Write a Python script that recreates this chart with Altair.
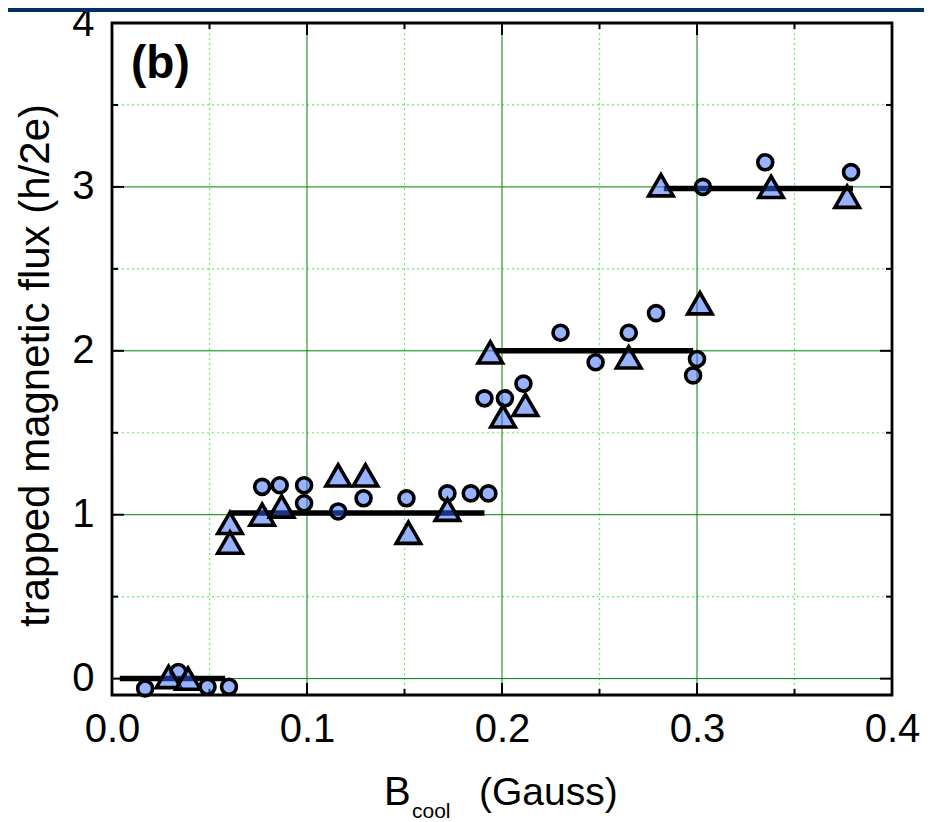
import altair as alt
import pandas as pd

# ---------------- data ----------------
circle_x = [0.017, 0.034, 0.049, 0.060,
            0.077, 0.086, 0.0985, 0.0985, 0.116, 0.129, 0.151, 0.172, 0.184, 0.193,
            0.191, 0.2015, 0.211, 0.230, 0.248, 0.265, 0.279, 0.300, 0.298,
            0.303, 0.335, 0.379]
circle_y = [-0.06, 0.04, -0.05, -0.05,
            1.17, 1.18, 1.18, 1.07, 1.02, 1.10, 1.10, 1.13, 1.13, 1.13,
            1.71, 1.71, 1.80, 2.11, 1.93, 2.11, 2.23, 1.95, 1.85,
            3.00, 3.15, 3.09]

tri_x = [0.029, 0.039,
         0.0605, 0.0605, 0.077, 0.087, 0.116, 0.130, 0.152, 0.172,
         0.194, 0.2005, 0.212, 0.265, 0.3015,
         0.2815, 0.338, 0.377]
tri_y = [0.01, 0.0,
         0.95, 0.83, 1.0, 1.05, 1.24, 1.24, 0.89, 1.03,
         1.99, 1.60, 1.67, 1.96, 2.29,
         3.01, 3.00, 2.94]

step_x_start = [0.004, 0.061, 0.196, 0.283]
step_x_end = [0.058, 0.191, 0.298, 0.380]
step_y = [0.0, 1.01, 2.0, 2.99]

x_tick_values = [0.0, 0.1, 0.2, 0.3, 0.4]
y_tick_values = [0, 1, 2, 3, 4]
x_major = [0.1, 0.2, 0.3]
x_minor = [0.05, 0.15, 0.25, 0.35]
y_major = [0, 1, 2, 3]
y_minor = [0.5, 1.5, 2.5, 3.5]

panel_label = "(b)"
y_title = "trapped magnetic flux (h/2e)"
x_title_main = "B"
x_title_sub = "cool"
x_title_unit = "(Gauss)"

# ---------------- layout ----------------
W, H = 780, 672
FONT = "Arial, Liberation Sans, sans-serif"

xs = alt.Scale(domain=[0, 0.4], nice=False, zero=False)
ys = alt.Scale(domain=[-0.1, 4], nice=False, zero=False)

x_axis = alt.Axis(values=x_tick_values, format=".1f", ticks=False, domain=False, grid=False,
                  labelFontSize=40, labelPadding=14, labelFlush=False, labelOverlap=False,
                  labelColor="black", labelFont=FONT, title=None)
y_axis = alt.Axis(values=y_tick_values, format="d", ticks=False, domain=False, grid=False,
                  labelFontSize=40, labelPadding=18, labelFlush=False, labelOverlap=False,
                  labelColor="black", labelFont=FONT,
                  title=y_title, titleFontSize=42, titleFontWeight="normal", titleFont=FONT,
                  titleColor="black", titleAngle=270, titleX=-64, titleY=342,
                  titleAlign="center", titleBaseline="alphabetic")


def X(f="x"):
    return alt.X(f"{f}:Q", scale=xs, axis=x_axis)


def Y(f="y"):
    return alt.Y(f"{f}:Q", scale=ys, axis=y_axis)


def vrules(vals, y0, y1, color, width, dash=None):
    kw = dict(color=color, strokeWidth=width)
    if dash:
        kw["strokeDash"] = dash
    return alt.Chart(pd.DataFrame({"x": vals})).mark_rule(**kw).encode(
        x=X(), y=alt.value(y0), y2=alt.value(y1))


def hrules(vals, x0, x1, color, width, dash=None):
    kw = dict(color=color, strokeWidth=width)
    if dash:
        kw["strokeDash"] = dash
    return alt.Chart(pd.DataFrame({"y": vals})).mark_rule(**kw).encode(
        y=Y(), x=alt.value(x0), x2=alt.value(x1))


GREEN = "#008000"
LGREEN = "#66ee66"

layers = [
    # grid
    vrules(x_minor, 0, H, LGREEN, 1.2, [2, 3]),
    hrules(y_minor, 0, W, LGREEN, 1.2, [2, 3]),
    vrules(x_major, 0, H, GREEN, 1),
    hrules(y_major, 0, W, GREEN, 1),
    # inward ticks
    vrules(x_major, H, H - 12, "black", 2),
    vrules(x_major, 0, 12, "black", 2),
    vrules(x_minor, H, H - 6, "black", 2),
    vrules(x_minor, 0, 6, "black", 2),
    hrules(y_major, 0, 12, "black", 2),
    hrules(y_major, W, W - 12, "black", 2),
    hrules(y_minor, 0, 6, "black", 2),
    hrules(y_minor, W, W - 6, "black", 2),
]

# plot frame
layers.append(alt.Chart(pd.DataFrame({"a": [0]})).mark_rect(
    filled=False, stroke="black", strokeWidth=2.8).encode(
    x=alt.value(0), x2=alt.value(W), y=alt.value(0), y2=alt.value(H)))

steps = pd.DataFrame({"x": step_x_start, "x2": step_x_end, "y": step_y})
layers.append(alt.Chart(steps).mark_rule(color="black", strokeWidth=5.5).encode(
    x=X(), x2="x2:Q", y=Y()))

circles = pd.DataFrame({"x": circle_x, "y": circle_y})
triangles = pd.DataFrame({"x": tri_x, "y": tri_y})
layers.append(alt.Chart(circles).mark_point(
    shape="circle", size=225, filled=True, fill="#3366ff", fillOpacity=0.5,
    stroke="black", strokeWidth=3.6, opacity=1).encode(x=X(), y=Y()))
layers.append(alt.Chart(triangles).mark_point(
    shape="triangle-up", size=600, filled=True, fill="#3366ff", fillOpacity=0.5,
    stroke="black", strokeWidth=3.6, opacity=1, strokeJoin="miter").encode(x=X(), y=Y()))

# panel label
layers.append(alt.Chart(pd.DataFrame({"t": [panel_label]})).mark_text(
    font=FONT, fontSize=46, fontWeight="bold", align="left", baseline="alphabetic",
    color="black").encode(x=alt.value(19), y=alt.value(55), text="t:N"))

# x title with subscript
layers.append(alt.Chart(pd.DataFrame({"t": [x_title_main]})).mark_text(
    font=FONT, fontSize=40, align="left", baseline="alphabetic", color="black").encode(
    x=alt.value(272), y=alt.value(782), text="t:N"))
layers.append(alt.Chart(pd.DataFrame({"t": [x_title_sub]})).mark_text(
    font=FONT, fontSize=21, align="left", baseline="alphabetic", color="black").encode(
    x=alt.value(300), y=alt.value(795), text="t:N"))
layers.append(alt.Chart(pd.DataFrame({"t": [x_title_unit]})).mark_text(
    font=FONT, fontSize=39, align="left", baseline="alphabetic", color="black").encode(
    x=alt.value(367), y=alt.value(782), text="t:N"))

# header band at the top of the page
layers.append(alt.Chart(pd.DataFrame({"a": [0]})).mark_rect(color="#02305f").encode(
    x=alt.value(-104), x2=alt.value(812), y=alt.value(-15), y2=alt.value(-11)))

chart = alt.layer(*layers).properties(
    width=W, height=H,
    autosize=alt.AutoSizeParams(type="none"),
    padding={"left": 104, "top": 15, "right": 32, "bottom": 127},
).configure(background="white").configure_view(strokeWidth=0)

chart.save("out.html", embed_options={"renderer": "svg", "actions": False})
